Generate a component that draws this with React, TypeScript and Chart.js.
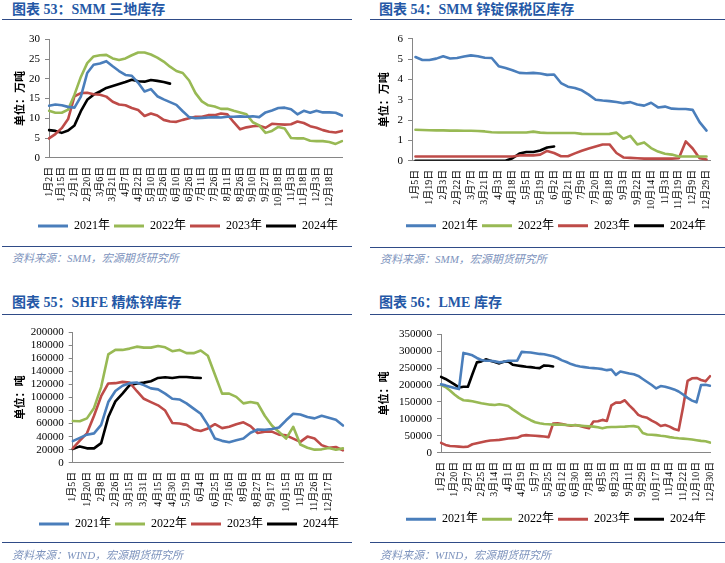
import React, { useEffect, useRef } from 'react';
import { Chart, registerables } from 'chart.js';

Chart.register(...registerables);

const FONT = '"Liberation Serif", "Times New Roman", "Noto Sans CJK SC", serif';
const TITLE_BLUE = '#2458A6';
const RULE_BLUE = '#2F4B87';
const SOURCE_COLOR = '#7D93BD';
const AXIS_GRAY = '#868686';

const SERIES_NAMES = ['2021年', '2022年', '2023年', '2024年'];
const SERIES_COLORS = ['#4A7EBB', '#98B954', '#BE4B48', '#000000'];

// ---------- 图表53 SMM 三地库存 (万吨) ----------
const smmTicks = ['1月2日', '1月15日', '2月1日', '2月20日', '3月6日', '3月21日', '4月7日', '4月22日', '5月10日', '5月26日', '6月10日', '6月26日', '7月11日', '7月26日', '8月11日', '8月26日', '9月10日', '9月27日', '10月18日', '11月3日', '11月18日', '12月3日', '12月18日'];
const smm2021 = [13.2, 13.5, 13.3, 12.9, 12.7, 15.5, 21.5, 23.6, 23.9, 24.5, 23.2, 22.0, 21.0, 20.8, 19.0, 16.8, 17.4, 15.6, 14.8, 14.1, 13.4, 11.8, 10.3, 10.0, 10.1, 10.2, 10.3, 10.2, 10.4, 10.4, 10.5, 10.4, 10.5, 10.3, 11.5, 12.0, 12.6, 12.7, 12.3, 11.0, 11.9, 11.4, 11.9, 11.5, 11.5, 11.4, 10.7];
const smm2022 = [11.9, 11.4, 11.4, 12.2, 16.0, 20.5, 24.0, 25.7, 26.0, 26.1, 25.2, 24.8, 25.2, 26.0, 26.7, 26.7, 26.2, 25.4, 24.4, 23.1, 22.0, 21.5, 19.6, 16.4, 14.3, 13.3, 13.0, 12.4, 12.4, 11.9, 11.5, 11.0, 9.0, 8.2, 6.3, 6.8, 7.8, 7.4, 5.0, 4.9, 4.9, 4.3, 4.2, 4.2, 4.0, 3.5, 4.2];
const smm2023 = [4.9, 6.0, 7.5, 9.8, 15.6, 16.4, 16.5, 16.1, 16.0, 15.5, 14.2, 13.5, 13.3, 12.6, 12.1, 10.6, 11.2, 10.7, 9.6, 9.2, 9.1, 9.6, 10.0, 10.4, 10.4, 10.8, 10.8, 11.2, 11.0, 9.0, 7.2, 7.7, 8.0, 8.1, 7.6, 8.6, 8.5, 8.4, 8.5, 9.2, 8.8, 8.0, 7.6, 7.0, 6.6, 6.4, 6.8];
const smm2024 = [7.0, 6.8, 6.3, 6.9, 8.2, 11.8, 14.7, 16.0, 16.8, 17.7, 18.2, 18.7, 19.2, 19.8, 19.4, 19.3, 19.7, 19.5, 19.2, 18.8];

// ---------- 图表54 SMM 锌锭保税区库存 (万吨) ----------
const bondTicks = ['1月5日', '1月19日', '2月3日', '2月22日', '3月7日', '3月21日', '4月3日', '4月18日', '5月5日', '5月19日', '6月2日', '6月21日', '7月9日', '7月20日', '8月18日', '9月3日', '9月22日', '10月14日', '11月3日', '11月19日', '12月9日', '12月29日'];
const bond2021 = [5.1, 4.95, 4.95, 5.02, 5.14, 5.03, 5.05, 5.12, 5.18, 5.14, 5.06, 5.05, 4.65, 4.56, 4.45, 4.32, 4.3, 4.32, 4.29, 4.22, 4.24, 3.82, 3.64, 3.58, 3.46, 3.25, 3.0, 2.96, 2.93, 2.89, 2.83, 2.88, 2.76, 2.71, 2.85, 2.62, 2.66, 2.56, 2.54, 2.54, 2.5, 1.9, 1.48];
const bond2022 = [1.52, 1.51, 1.5, 1.49, 1.49, 1.48, 1.48, 1.47, 1.47, 1.46, 1.44, 1.4, 1.39, 1.39, 1.39, 1.39, 1.39, 1.43, 1.38, 1.36, 1.36, 1.36, 1.36, 1.36, 1.32, 1.31, 1.31, 1.31, 1.32, 1.38, 1.08, 1.22, 0.8, 0.9, 0.62, 0.45, 0.34, 0.3, 0.21, 0.21, 0.21, 0.21, 0.21];
const bond2023 = [0.21, 0.21, 0.21, 0.21, 0.21, 0.21, 0.21, 0.21, 0.21, 0.21, 0.21, 0.21, 0.21, 0.21, 0.21, 0.26, 0.26, 0.26, 0.3, 0.48, 0.38, 0.22, 0.22, 0.36, 0.49, 0.6, 0.7, 0.8, 0.8, 0.38, 0.16, 0.14, 0.12, 0.1, 0.1, 0.1, 0.1, 0.1, 0.12, 0.95, 0.6, 0.12, 0.06];
const bond2024 = [0, 0, 0, 0, 0, 0, 0, 0, 0, 0, 0, 0, 0, 0, 0.12, 0.35, 0.43, 0.43, 0.5, 0.65, 0.7];

// ---------- 图表55 SHFE 精炼锌库存 (吨) ----------
const shfeTicks = ['1月5日', '1月20日', '2月8日', '2月26日', '3月15日', '3月31日', '4月15日', '4月30日', '5月19日', '6月4日', '6月25日', '7月16日', '8月6日', '8月27日', '9月17日', '10月15日', '11月5日', '11月26日', '12月17日'];
const shfe2021 = [33000, 38000, 43000, 45000, 58000, 93000, 110000, 118000, 122000, 123000, 119000, 114000, 112500, 106000, 98000, 97000, 91000, 83000, 75000, 58000, 37000, 33500, 31500, 34500, 37000, 46000, 51000, 50500, 51700, 54000, 65000, 75000, 74000, 70000, 68000, 72000, 69000, 66000, 57000];
const shfe2022 = [64000, 63500, 68000, 84000, 116000, 166000, 173000, 173000, 175000, 178000, 176500, 176500, 179000, 177000, 171000, 173000, 168000, 168000, 172000, 164000, 135000, 106000, 106000, 101000, 91000, 93000, 91000, 72000, 57000, 47000, 37000, 55000, 28000, 23000, 20000, 20500, 22500, 20000, 22000];
const shfe2023 = [22000, 34000, 45000, 72000, 102000, 121500, 122000, 124000, 123000, 110000, 98000, 93000, 88000, 80000, 61000, 60000, 58000, 51000, 48600, 52500, 59000, 53000, 55000, 59000, 62000, 56000, 45500, 47600, 47600, 43000, 42000, 37000, 32000, 40000, 37000, 27000, 23000, 24000, 19000];
const shfe2024 = [21000, 25000, 22000, 22000, 30000, 70000, 94000, 106000, 119000, 121500, 122800, 125000, 130000, 131000, 130000, 131500, 131500, 130500, 130000];

// ---------- 图表56 LME 库存 (吨) ----------
const lmeTicks = ['1月2日', '1月20日', '2月7日', '2月25日', '3月14日', '4月1日', '4月19日', '5月7日', '5月25日', '6月12日', '6月30日', '7月18日', '8月5日', '8月23日', '9月11日', '9月29日', '10月17日', '11月4日', '11月22日', '12月10日', '12月30日'];
const lme2021 = [202000, 199000, 195000, 191000, 188000, 295000, 292000, 288000, 280000, 274000, 272000, 272000, 270000, 267000, 269000, 272000, 272000, 272000, 298000, 297000, 296000, 294000, 292000, 291000, 288000, 285000, 280000, 273000, 268000, 262000, 258000, 255000, 253000, 251000, 250000, 249000, 247000, 244000, 246000, 230000, 240000, 237000, 234000, 232000, 227000, 218000, 209000, 200000, 190000, 197000, 195000, 191000, 187000, 181000, 172000, 162000, 154000, 149000, 200000, 201000, 198000];
const lme2022 = [200000, 194000, 184000, 172000, 162000, 155000, 154000, 152000, 149000, 146000, 144000, 142000, 141000, 143000, 141000, 138000, 128000, 119000, 110000, 103000, 96000, 90000, 87000, 85000, 84000, 83000, 83000, 83000, 82000, 81000, 81000, 80000, 79000, 78000, 77000, 75000, 72000, 75000, 76000, 76000, 76500, 77000, 78000, 78500, 76000, 58000, 54000, 53000, 52000, 50000, 48700, 46000, 44000, 42500, 41700, 40500, 39000, 37000, 35000, 34000, 30000];
const lme2023 = [29000, 23000, 20000, 19000, 18000, 17000, 18000, 25000, 28000, 31000, 34000, 36000, 37000, 38000, 40000, 42000, 43000, 44000, 50000, 52000, 51000, 50000, 49000, 48000, 46000, 86000, 87000, 85000, 82000, 80000, 82000, 79000, 75000, 72000, 92000, 93000, 97000, 94000, 140000, 148000, 148000, 155000, 140000, 127000, 112000, 106000, 103000, 95000, 88000, 79000, 82000, 77000, 70000, 66000, 135000, 212000, 220000, 221000, 215000, 211000, 226000];
const lme2024 = [224000, 218000, 210000, 202000, 193000, 195000, 195000, 232000, 267000, 270000, 276000, 272000, 268000, 264000, 269000, 270000, 260000, 258000, 256000, 254000, 253000, 251000, 250000, 258000, 257000, 255000];

function buildLabels(tickLabels: string[], step: number, count: number): string[] {
  const out: string[] = [];
  for (let i = 0; i < count; i++) {
    const k = i / step;
    out.push(i % step === 0 && k < tickLabels.length ? tickLabels[k] : '');
  }
  return out;
}

type PanelProps = {
  left: number; top: number; width: number; height: number;
  pad: { top: number; left: number; right: number; bottom: number };
  yWidth: number; xHeight: number;
  yTitle: string; yTitlePad: number;
  yMax: number; yStep: number;
  tickLabels: string[]; step: number; count: number; offset: boolean;
  series: number[][];
};

function LinePanel(p: PanelProps) {
  const ref = useRef<HTMLCanvasElement>(null);
  useEffect(() => {
    const canvas = ref.current;
    if (!canvas) return;
    const labels = buildLabels(p.tickLabels, p.step, p.count);
    const chart = new Chart(canvas, {
      type: 'line',
      data: {
        labels,
        datasets: p.series.map((d, k) => ({
          label: SERIES_NAMES[k],
          data: d,
          borderColor: SERIES_COLORS[k],
          backgroundColor: SERIES_COLORS[k],
          borderWidth: 2.6,
          pointRadius: 0,
          tension: 0,
          fill: false,
          borderCapStyle: 'round',
          borderJoinStyle: 'round',
        })),
      },
      options: {
        responsive: false,
        animation: false,
        devicePixelRatio: 1,
        layout: { padding: p.pad },
        plugins: {
          tooltip: { enabled: false },
          legend: {
            position: 'bottom',
            align: 'end',
            labels: {
              boxWidth: 30,
              boxHeight: 3,
              padding: 4,
              color: '#000',
              font: { size: 12, family: FONT },
              generateLabels: (c: any) =>
                (Chart.defaults as any).plugins.legend.labels.generateLabels(c).map((l: any) => ({ ...l, lineWidth: 0 })),
            },
          },
        },
        scales: {
          x: {
            type: 'category',
            offset: p.offset,
            grid: { display: false, drawTicks: false },
            border: { display: true, color: AXIS_GRAY, width: 1 },
            ticks: {
              autoSkip: false,
              minRotation: 90,
              maxRotation: 90,
              padding: 9,
              color: '#000',
              font: { size: 10, family: FONT },
            },
            afterFit: (s: any) => {
              s.height = p.xHeight;
              s.paddingLeft = 0;
              s.paddingRight = 0;
            },
          },
          y: {
            min: 0,
            max: p.yMax,
            grid: { display: true, drawOnChartArea: false, drawTicks: true, tickLength: 4, color: AXIS_GRAY },
            border: { display: true, color: AXIS_GRAY, width: 1 },
            ticks: {
              stepSize: p.yStep,
              autoSkip: false,
              padding: 5,
              color: '#000',
              font: { size: 11, family: FONT },
              callback: (v: any) => String(v),
            },
            title: {
              display: true,
              text: p.yTitle,
              color: '#000',
              font: { size: 11, weight: 'bold', family: FONT },
              padding: { top: p.yTitlePad, bottom: 0 },
            },
            afterFit: (s: any) => {
              s.width = p.yWidth;
              s.paddingTop = 0;
              s.paddingBottom = 0;
            },
          },
        },
      } as any,
    });
    return () => chart.destroy();
  }, []);
  return (
    <canvas
      ref={ref}
      width={p.width}
      height={p.height}
      style={{ position: 'absolute', left: p.left, top: p.top, width: p.width, height: p.height, display: 'block' }}
    />
  );
}

function Title({ left, top, text }: { left: number; top: number; text: string }) {
  return (
    <div style={{ position: 'absolute', left, top, fontFamily: FONT, fontWeight: 'bold', fontSize: 14, lineHeight: '16px', color: TITLE_BLUE, whiteSpace: 'nowrap' }}>
      {text}
    </div>
  );
}

function Rule({ left, top, width }: { left: number; top: number; width: number }) {
  return <div style={{ position: 'absolute', left, top, width, height: 1.3, background: RULE_BLUE }} />;
}

function Source({ left, top, text }: { left: number; top: number; text: string }) {
  return (
    <div style={{ position: 'absolute', left, top, fontFamily: FONT, fontStyle: 'italic', fontSize: 11, lineHeight: '12px', color: SOURCE_COLOR, whiteSpace: 'nowrap' }}>
      {text}
    </div>
  );
}

export default function App() {
  return (
    <div style={{ position: 'absolute', left: 0, top: 0, width: 725, height: 563, background: '#fff', overflow: 'hidden' }}>
      {/* Panel 53 */}
      <Title left={12} top={2} text="图表 53：SMM 三地库存" />
      <Rule left={2} top={18.5} width={350} />
      <LinePanel
        left={0} top={30} width={352} height={215}
        pad={{ top: 9.5, left: 0, right: 10, bottom: 3 }}
        yWidth={49} xHeight={58.3}
        yTitle="单位：万吨" yTitlePad={14.4}
        yMax={30} yStep={5}
        tickLabels={smmTicks} step={2} count={47} offset={false}
        series={[smm2021, smm2022, smm2023, smm2024]}
      />
      <Rule left={2} top={246} width={350} />
      <Source left={12} top={252} text="资料来源：SMM，宏源期货研究所" />

      {/* Panel 54 */}
      <Title left={379} top={2} text="图表 54：SMM 锌锭保税区库存" />
      <Rule left={370} top={18.5} width={355} />
      <LinePanel
        left={362} top={30} width={356} height={215}
        pad={{ top: 8.7, left: 0, right: 8, bottom: 3.3 }}
        yWidth={50} xHeight={55}
        yTitle="单位：万吨" yTitlePad={16.9}
        yMax={6} yStep={1}
        tickLabels={bondTicks} step={2} count={43} offset={true}
        series={[bond2021, bond2022, bond2023, bond2024]}
      />
      <Rule left={370} top={246.5} width={355} />
      <Source left={380} top={253} text="资料来源：SMM，宏源期货研究所" />

      {/* Panel 55 */}
      <Title left={12} top={295} text="图表 55：SHFE 精炼锌库存" />
      <Rule left={2} top={313.5} width={350} />
      <LinePanel
        left={0} top={325} width={352} height={218}
        pad={{ top: 7.3, left: 0, right: 9, bottom: 3 }}
        yWidth={72.7} xHeight={51.3}
        yTitle="单位：吨" yTitlePad={14.4}
        yMax={200000} yStep={20000}
        tickLabels={shfeTicks} step={2} count={39} offset={false}
        series={[shfe2021, shfe2022, shfe2023, shfe2024]}
      />
      <Rule left={2} top={542} width={350} />
      <Source left={12} top={549} text="资料来源：WIND，宏源期货研究所" />

      {/* Panel 56 */}
      <Title left={379} top={295} text="图表 56：LME 库存" />
      <Rule left={370} top={313.5} width={355} />
      <LinePanel
        left={362} top={325} width={356} height={215}
        pad={{ top: 9.3, left: 0, right: 8, bottom: 4.7 }}
        yWidth={79} xHeight={56.6}
        yTitle="单位：吨" yTitlePad={16.4}
        yMax={350000} yStep={50000}
        tickLabels={lmeTicks} step={3} count={61} offset={false}
        series={[lme2021, lme2022, lme2023, lme2024]}
      />
      <Rule left={370} top={542} width={355} />
      <Source left={380} top={549} text="资料来源：WIND，宏源期货研究所" />
    </div>
  );
}
